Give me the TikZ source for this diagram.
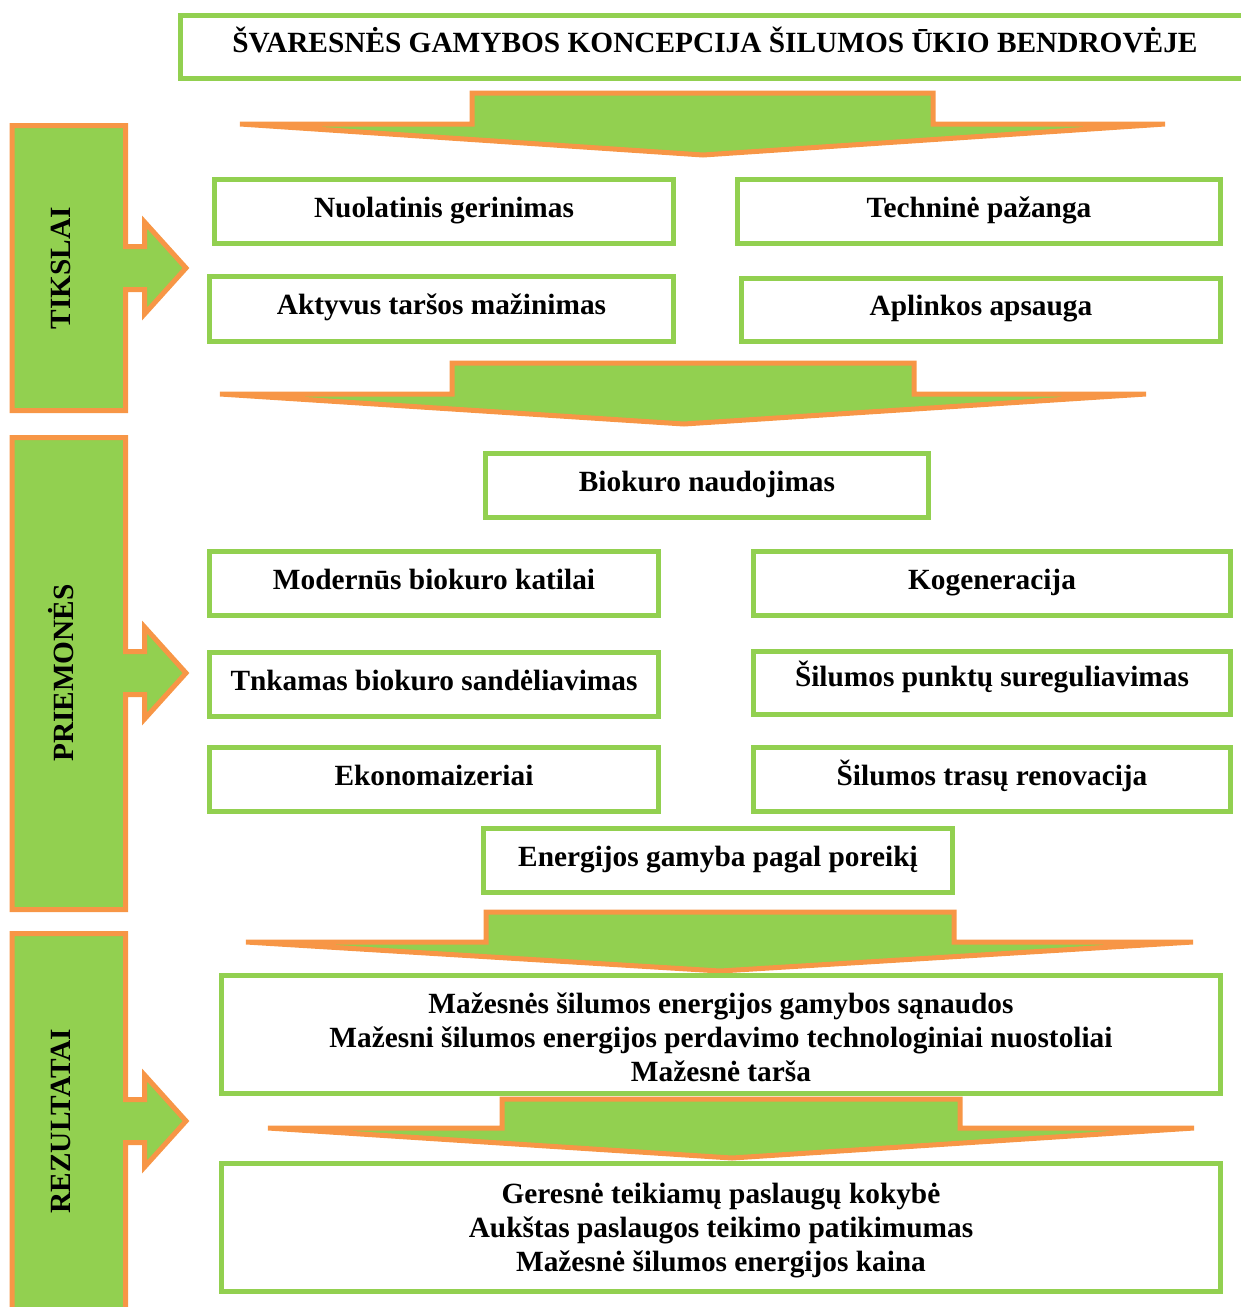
\documentclass[tikz,border=0pt]{standalone}
\usepackage{fontspec}
\setmainfont{Liberation Serif}
\definecolor{grn}{RGB}{146,208,80}
\definecolor{org}{RGB}{247,150,70}
\tikzset{every picture/.style={line width=0.75pt}}
\begin{document}
\begin{tikzpicture}[x=0.75pt,y=0.75pt,yscale=-1,xscale=1,
  box/.style={draw=grn,line width=3.75pt},
  blockarrow/.style={draw=org,fill=grn,line width=3.75pt},
  lbl/.style={inner sep=0.75pt,font=\fontsize{22}{25.5}\selectfont\bfseries,text height=16pt,text depth=7.5pt},
  mlbl/.style={inner sep=0.75pt,font=\fontsize{22}{25.5}\selectfont\bfseries,align=center},
  sidelbl/.style={inner sep=0.75pt,font=\fontsize{22}{25.5}\selectfont\bfseries,rotate=90}]
%set diagram left start at 0, and has height of 1307
\clip (0,0) rectangle (1241,1307);

%Shape: Rectangle [title]
\draw [box] (180.5,15.5) rectangle (1250,78.5) ;
% Text Node
\draw (715,47) node [lbl] (title) {ŠVARESNĖS GAMYBOS KONCEPCIJA ŠILUMOS ŪKIO BENDROVĖJE};

%Shape: Down Arrow [1]
\draw [blockarrow] (240,124) -- (472,124) -- (472,93) -- (933,93) -- (933,124) -- (1165,124) -- (703,155) -- cycle ;

%Shape: Side Arrow [tikslai]
\draw [blockarrow] (12,125.5) -- (125.5,125.5) -- (125.5,246.5) -- (144.5,246.5) -- (144.5,222) -- (186,268) -- (144.5,314) -- (144.5,289.5) -- (125.5,289.5) -- (125.5,410.5) -- (12,410.5) -- cycle ;
% Text Node
\draw (61,268) node [sidelbl] (tikslai) {TIKSLAI};

%Shape: Rectangle [goals]
\draw [box] (214.5,179.5) rectangle (673.5,243.5) ;
\draw [box] (737.5,179.5) rectangle (1220.5,243.5) ;
\draw [box] (209.5,276.5) rectangle (673.5,341.5) ;
\draw [box] (741.5,278.5) rectangle (1220.5,341.5) ;
% Text Node
\draw (444,211.5) node [lbl] (nuol) {Nuolatinis gerinimas};
% Text Node
\draw (979,211.5) node [lbl] (tech) {Techninė pažanga};
% Text Node
\draw (441.5,309) node [lbl] (akt) {Aktyvus taršos mažinimas};
% Text Node
\draw (981,310) node [lbl] (apl) {Aplinkos apsauga};

%Shape: Down Arrow [2]
\draw [blockarrow] (220,394) -- (452,394) -- (452,363) -- (914,363) -- (914,394) -- (1146,394) -- (684,424) -- cycle ;

%Shape: Side Arrow [priemones]
\draw [blockarrow] (12,437.5) -- (125.5,437.5) -- (125.5,651.5) -- (144.5,651.5) -- (144.5,627) -- (186,673) -- (144.5,719) -- (144.5,694.5) -- (125.5,694.5) -- (125.5,909.5) -- (12,909.5) -- cycle ;
% Text Node
\draw (61,673) node [sidelbl] (priem) {PRIEMONĖS};

%Shape: Rectangle [means]
\draw [box] (485.5,453.5) rectangle (928.5,517.5) ;
\draw [box] (209.5,551.5) rectangle (658.5,615.5) ;
\draw [box] (753.5,551.5) rectangle (1230.5,615.5) ;
\draw [box] (209.5,652.5) rectangle (658.5,716.5) ;
\draw [box] (753.5,651.5) rectangle (1230.5,714.5) ;
\draw [box] (209.5,747.5) rectangle (658.5,811.5) ;
\draw [box] (753.5,747.5) rectangle (1230.5,811.5) ;
\draw [box] (483.5,828.5) rectangle (952.5,892.5) ;
% Text Node
\draw (707,485.5) node [lbl] (bio) {Biokuro naudojimas};
% Text Node
\draw (434,583.5) node [lbl] (mod) {Modernūs biokuro katilai};
% Text Node
\draw (992,583.5) node [lbl] (kog) {Kogeneracija};
% Text Node
\draw (434,684.5) node [lbl] (tnk) {Tnkamas biokuro sandėliavimas};
% Text Node
\draw (992,681) node [lbl] (punkt) {Šilumos punktų sureguliavimas};
% Text Node
\draw (434,779.5) node [lbl] (eko) {Ekonomaizeriai};
% Text Node
\draw (992,779.5) node [lbl] (tras) {Šilumos trasų renovacija};
% Text Node
\draw (718,860.5) node [lbl] (ener) {Energijos gamyba pagal poreikį};

%Shape: Down Arrow [3]
\draw [blockarrow] (246,942) -- (486,942) -- (486,912) -- (954,912) -- (954,942) -- (1193,942) -- (720,971) -- cycle ;

%Shape: Side Arrow [rezultatai]
\draw [blockarrow] (12,933.5) -- (125.5,933.5) -- (125.5,1099.5) -- (144.5,1099.5) -- (144.5,1075) -- (186,1121) -- (144.5,1167) -- (144.5,1142.5) -- (125.5,1142.5) -- (125.5,1320) -- (12,1320) -- cycle ;
% Text Node
\draw (61,1121) node [sidelbl] (rez) {REZULTATAI};

%Shape: Rectangle [results]
\draw [box] (221.5,975.5) rectangle (1220.5,1093.5) ;
% Text Node
\draw (721,1037.5) node [mlbl] (res) {Mažesnės šilumos energijos gamybos sąnaudos\\Mažesni šilumos energijos perdavimo technologiniai nuostoliai\\Mažesnė tarša};

%Shape: Down Arrow [4]
\draw [blockarrow] (268,1128) -- (502,1128) -- (502,1099) -- (960,1099) -- (960,1128) -- (1194,1128) -- (732,1158) -- cycle ;

%Shape: Rectangle [outcome]
\draw [box] (221.5,1163.5) rectangle (1220.5,1291.5) ;
% Text Node
\draw (721,1230.5) node [mlbl] (out) {Geresnė teikiamų paslaugų kokybė\\Aukštas paslaugos teikimo patikimumas\\Mažesnė šilumos energijos kaina};

\end{tikzpicture}
\end{document}
